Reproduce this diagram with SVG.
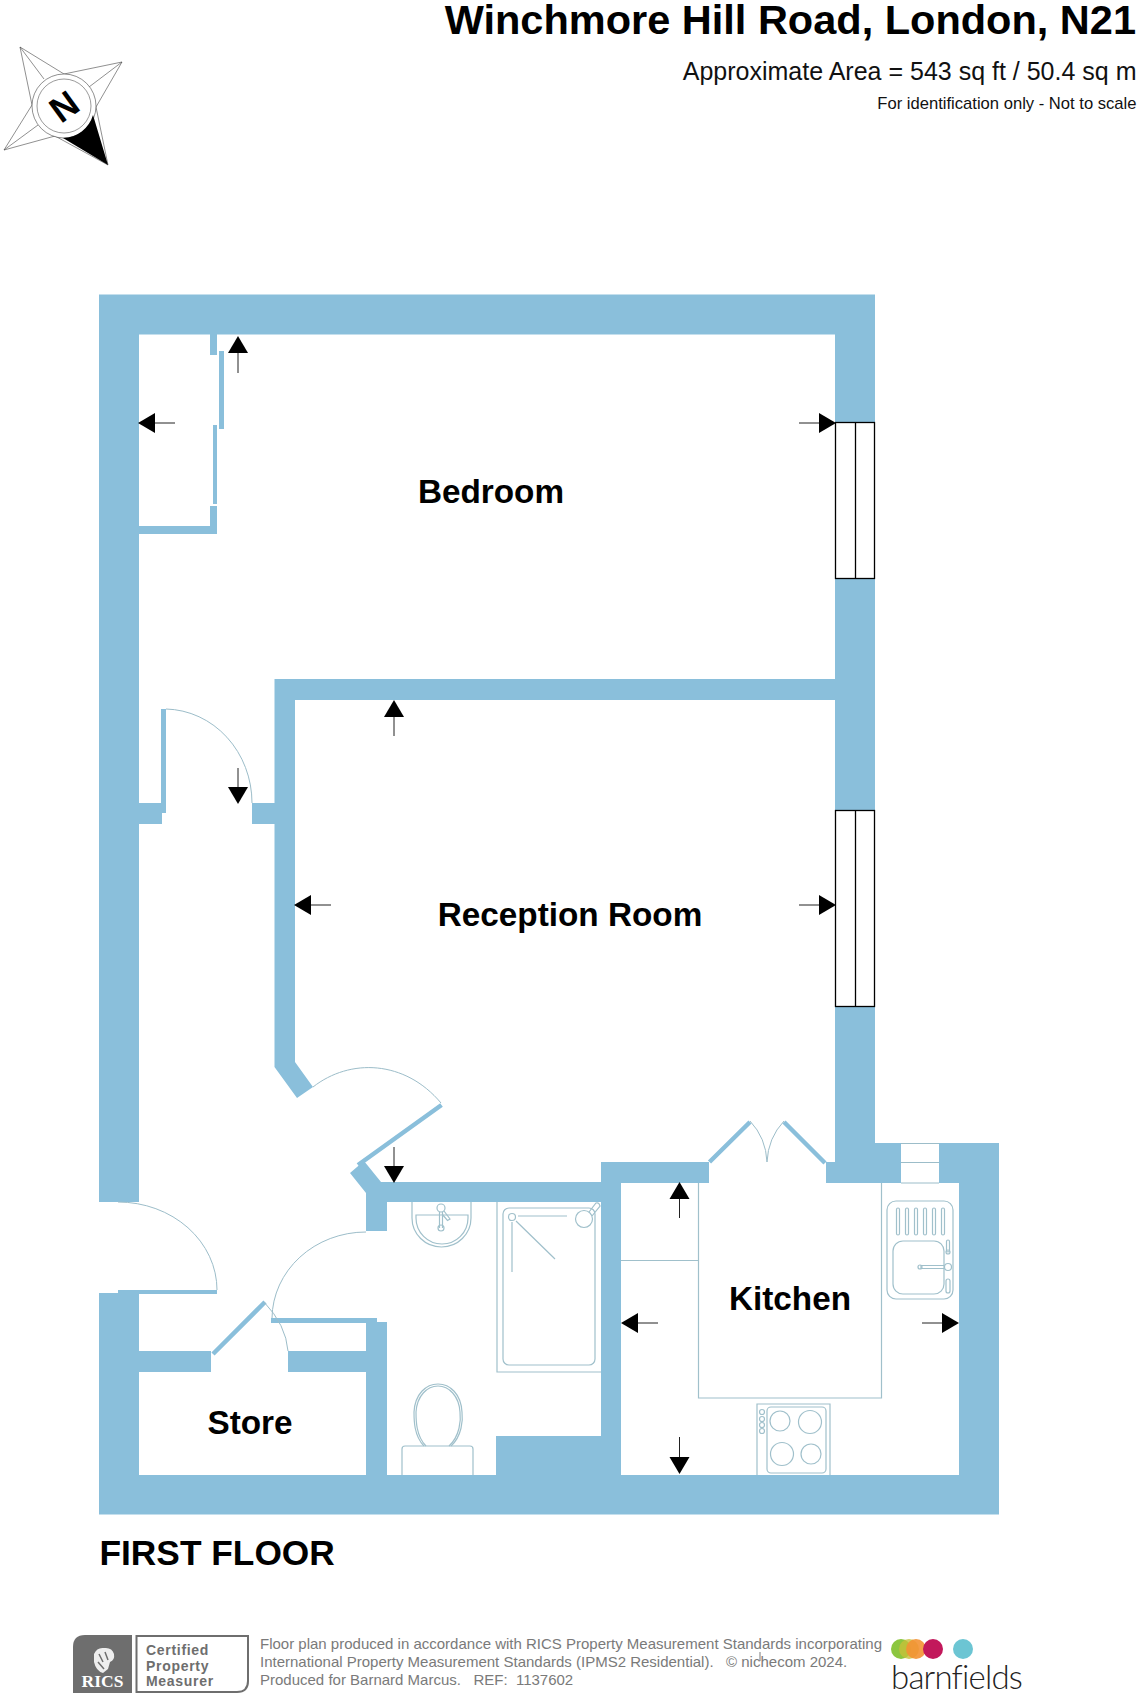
<svg xmlns="http://www.w3.org/2000/svg" width="1144" height="1704" viewBox="0 0 1144 1704">
<style>
text{font-family:"Liberation Sans",Arial,sans-serif}
.wall{fill:#8abfdb}
.panel{stroke:#8abfdb;stroke-width:4.500;fill:none}
.arc{stroke:#9cbdc9;stroke-width:1;fill:none}
.fx{stroke:#a0c0cb;stroke-width:1.200;fill:none}
.win{stroke:#000;stroke-width:1.300;fill:#fff}
.dim{stroke:#222;stroke-width:1;fill:none}
.head{fill:#000;stroke:none}
.room{font-weight:700;font-size:33.300px;fill:#000;text-anchor:middle}
.foot{font-size:15px;fill:#7a7a7a}
.rics{font-weight:700;font-size:14px;letter-spacing:.7px;fill:#6e6e6e}
.star{stroke:#444;stroke-width:.6;fill:#fff}
</style>
<rect width="1144" height="1704" fill="#fff"/>

<g id="compass">
<path class="star" d="M20 47L64 74L122 62L96 107L108 165L55 136L4 150L32 105Z"/>
<path class="star" d="M20 47L44 79M122 62L89 87M4 150L38 125"/>
<circle class="star" cx="64" cy="106" r="32"/>
<circle cx="64" cy="106" r="27" fill="#fff" stroke="#555" stroke-width=".6"/>
<path d="M108 165L93 115A32 32 0 0 1 63 138Z" fill="#000"/>
<text x="64" y="119" transform="rotate(-36 64 106)" font-size="36" font-weight="700" text-anchor="middle" fill="#000">N</text>
</g>

<g id="title">
<text x="1136" y="34" text-anchor="end" font-size="41.500" font-weight="700" fill="#000">Winchmore Hill Road, London, N21</text>
<text x="1136.500" y="80" text-anchor="end" font-size="25" fill="#111">Approximate Area = 543 sq ft / 50.4 sq m</text>
<text x="1136.500" y="109" text-anchor="end" font-size="16.600" fill="#111">For identification only - Not to scale</text>
</g>

<g id="walls">
<path class="wall" d="M99 294.500H875V1143H901V1183H826V1162H835V334.500H139V1202H99Z"/>
<path class="wall" d="M274.500 679H835V700H295V1062L313 1087L297 1098L274.500 1067Z"/>
<rect class="wall" x="139" y="803" width="23" height="21"/>
<rect class="wall" x="252" y="803" width="23" height="21"/>
<path class="wall" d="M350 1173L364 1161L381 1182H601V1162H709V1183H621V1475H959V1183H939V1143H999V1514.500H99V1293H118V1290H139V1351H211V1372H139V1475H366V1372H288V1351H366V1322H387V1475H496V1436H601V1202H387V1231H366V1193Z"/>
<path class="wall" d="M210 334H217V355H210ZM219 351H224V429H219ZM213 425H217V504H213ZM210 506H217V534H139V526H210Z"/>
<rect class="wall" x="161" y="709" width="5" height="104"/>
<rect class="wall" x="118" y="1290" width="99" height="4"/>
<rect class="wall" x="271" y="1318" width="106" height="5"/>
<path class="panel" d="M441.500 1105L358 1165M213 1354L265 1302M709.500 1162L750 1122M784 1122L825 1163"/>
</g>

<g id="windows">
<rect class="win" x="835.500" y="422.500" width="39" height="156"/>
<path class="win" d="M855.500 422.500V578.500"/>
<rect class="win" x="835.500" y="810.500" width="39" height="196"/>
<path class="win" d="M855.500 810.500V1006.500"/>
</g>

<g id="vent" stroke="#9cbdc9" stroke-width="1">
<path d="M901 1143.500H939M901 1162.500H939M901 1183H939"/>
</g>

<g id="door-swings">
<path class="arc" d="M166 709A88 94 0 0 1 252 803"/>
<path class="arc" d="M313 1087C350 1058 405 1060 441 1103"/>
<path class="arc" d="M118 1202A99 88 0 0 1 217 1290"/>
<path class="arc" d="M366 1232A94 87 0 0 0 272 1318"/>
<path class="arc" d="M264 1302Q286 1325 288 1351"/>
<path class="arc" d="M750 1121Q766 1138 767 1162M784 1121Q768 1138 767 1162"/>
</g>

<g id="kitchen-units">
<path class="fx" d="M698.500 1183V1398H881.500V1183M621 1260.500H698"/>
<rect class="fx" x="887" y="1201" width="66" height="98" rx="9"/>
<rect class="fx" x="896.500" y="1208" width="3" height="27" rx="1.500"/>
<rect class="fx" x="905.500" y="1208" width="3" height="27" rx="1.500"/>
<rect class="fx" x="914.500" y="1208" width="3" height="27" rx="1.500"/>
<rect class="fx" x="923.500" y="1208" width="3" height="27" rx="1.500"/>
<rect class="fx" x="932.500" y="1208" width="3" height="27" rx="1.500"/>
<rect class="fx" x="941.500" y="1208" width="3" height="27" rx="1.500"/>
<rect class="fx" x="893" y="1241" width="51" height="53" rx="10"/>
<circle class="fx" cx="948" cy="1267" r="3.500"/>
<path class="fx" d="M944 1265.500H921V1268.500H944"/>
<circle class="fx" cx="920" cy="1267" r="2"/>
<rect class="fx" x="946.500" y="1240" width="3" height="12" rx="1.500"/>
<circle class="fx" cx="948" cy="1252" r="2"/>
<rect class="fx" x="946" y="1279" width="4" height="14" rx="2"/>
<path class="fx" d="M757 1475V1404H830V1475"/>
<rect class="fx" x="767" y="1407" width="59" height="66" rx="4"/>
<circle class="fx" cx="780" cy="1421" r="10"/>
<circle class="fx" cx="810" cy="1422" r="11.500"/>
<circle class="fx" cx="782" cy="1454" r="11.500"/>
<circle class="fx" cx="811" cy="1454" r="10"/>
<circle class="fx" cx="762" cy="1412" r="2.500"/>
<circle class="fx" cx="762" cy="1419" r="2.500"/>
<circle class="fx" cx="762" cy="1425" r="2.500"/>
<circle class="fx" cx="762" cy="1431" r="2.500"/>
</g>

<g id="bathroom-fittings">
<path class="fx" d="M412 1202V1218A29.500 29 0 0 0 471 1218V1202"/>
<path class="fx" d="M416 1215H468V1218A26 26 0 0 1 416 1218Z"/>
<circle class="fx" cx="441" cy="1208" r="4"/>
<path class="fx" d="M439.500 1212V1228M442.500 1212V1228M444 1211L450 1219L447.500 1220.500L442 1214"/>
<circle class="fx" cx="441" cy="1228" r="3"/>
<path class="fx" d="M497 1202V1372H601"/>
<rect class="fx" x="503" y="1208" width="92" height="157" rx="6"/>
<circle class="fx" cx="512" cy="1217" r="3.500"/>
<path class="fx" d="M512 1222V1272M518 1216H567M516 1221L555 1259"/>
<circle class="fx" cx="584" cy="1219" r="8.500"/>
<path class="fx" d="M589 1212L596 1203Q599 1202 600 1206L592 1216"/>
<path class="fx" d="M424 1446C414 1436 414 1420 414 1412C415 1394 426 1384 438 1384C450 1384 461 1394 462 1412C463 1420 462 1436 451 1446"/>
<path class="fx" d="M426 1446C416 1436 416 1420 416 1412C417 1396 427 1386 438 1386C449 1386 459 1396 460 1412C461 1420 460 1436 449 1446"/>
<path class="fx" d="M402 1475V1449Q402 1446 405 1446H470Q473 1446 473 1449V1475"/>
</g>

<g id="dimension-arrows">
<path class="dim" d="M238 353V373M155 423H175M819 423H799M238 787V768M394 717V736M311 905H331M819 905H799M394 1166V1147M679.500 1199V1218M638 1323H658M942 1323H922M679.500 1457V1437"/>
<path class="head" d="M238 336L248 353H228Z"/>
<path class="head" d="M138 423L155 413V433Z"/>
<path class="head" d="M836 423L819 413V433Z"/>
<path class="head" d="M238 804L228 787H248Z"/>
<path class="head" d="M394 700L404 717H384Z"/>
<path class="head" d="M294 905L311 895V915Z"/>
<path class="head" d="M836 905L819 895V915Z"/>
<path class="head" d="M394 1183L384 1166H404Z"/>
<path class="head" d="M679.500 1182L689.500 1199H669.500Z"/>
<path class="head" d="M621 1323L638 1313V1333Z"/>
<path class="head" d="M959 1323L942 1313V1333Z"/>
<path class="head" d="M679.500 1474L669.500 1457H689.500Z"/>
</g>

<g id="bedroom"><text class="room" x="491" y="503">Bedroom</text></g>
<g id="reception-room"><text class="room" x="570" y="926">Reception Room</text></g>
<g id="kitchen"><text class="room" x="790" y="1310">Kitchen</text></g>
<g id="store"><text class="room" x="250" y="1434">Store</text></g>
<g id="floor-label"><text x="99.500" y="1565" font-size="35.300" font-weight="700" fill="#000">FIRST FLOOR</text></g>

<g id="rics-badge">
<path d="M85 1635H132V1693H73V1647Q73 1635 85 1635Z" fill="#6e6e6e"/>
<path d="M94 1654Q97 1647 104 1648Q112 1647 114 1654Q115 1660 110 1662L108 1669L103 1673Q96 1671 94 1662Z" fill="#eee"/>
<path d="M99 1654L103 1662M105 1652L108 1660M98 1662L104 1669" stroke="#6e6e6e" stroke-width="1.500" fill="none"/>
<text x="102.500" y="1687" text-anchor="middle" font-size="17.500" font-weight="700" fill="#fff" style="font-family:'Liberation Serif',serif">RICS</text>
<path d="M136.500 1636H248V1681Q248 1692 237 1692H136.500Z" fill="none" stroke="#6e6e6e" stroke-width="2"/>
<text class="rics" x="146" y="1655">Certified</text>
<text class="rics" x="146" y="1671">Property</text>
<text class="rics" x="146" y="1686">Measurer</text>
</g>

<g id="credits">
<text class="foot" x="260" y="1649">Floor plan produced in accordance with RICS Property Measurement Standards incorporating</text>
<text class="foot" x="260" y="1667" xml:space="preserve">International Property Measurement Standards (IPMS2 Residential).   © nichecom 2024.</text>
<path d="M760 1652V1661" stroke="#7a7a7a" stroke-width="1"/>
<text class="foot" x="260" y="1685" xml:space="preserve">Produced for Barnard Marcus.   REF:  1137602</text>
</g>

<g id="barnfields-logo">
<circle cx="901" cy="1649" r="10" fill="#8cc63f"/>
<circle cx="909" cy="1649" r="10" fill="#c5c03a" opacity=".8"/>
<circle cx="916" cy="1649" r="10" fill="#f39233" opacity=".9"/>
<circle cx="933" cy="1649" r="10" fill="#c2185b"/>
<circle cx="963" cy="1649" r="10" fill="#6cc5d3"/>
<text x="891" y="1689" font-size="33" font-weight="300" letter-spacing="-.8" fill="#222" style="font-family:Lato,'Open Sans',sans-serif">barnfields</text>
</g>
</svg>
